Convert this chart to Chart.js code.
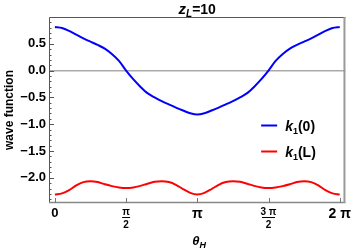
<!DOCTYPE html>
<html>
<head>
<meta charset="utf-8">
<script src="https://cdn.jsdelivr.net/npm/chart.js@4/dist/chart.umd.min.js"></script>
<style>
html,body{margin:0;padding:0;background:#fff;}
#wrap{width:354px;height:250px;position:relative;}
</style>
</head>
<body>
<div id="wrap"><canvas id="c" width="354" height="250"></canvas></div>
<script>
// ---- data ----
const theta = [0.000,0.157,0.314,0.471,0.628,0.785,0.942,1.100,1.257,1.414,1.571,1.728,1.885,2.042,2.199,2.356,2.513,2.670,2.827,2.985,3.142,
               3.299,3.456,3.613,3.770,3.927,4.084,4.241,4.398,4.555,4.712,4.869,5.027,5.184,5.341,5.498,5.655,5.812,5.969,6.126,6.283];
const k1_0 = [0.815,0.795,0.74,0.67,0.60,0.54,0.48,0.41,0.31,0.18,0.00,-0.16,-0.30,-0.42,-0.50,-0.57,-0.63,-0.69,-0.745,-0.795,-0.82,
              -0.795,-0.745,-0.69,-0.63,-0.57,-0.50,-0.42,-0.30,-0.16,0.00,0.18,0.31,0.41,0.48,0.54,0.60,0.67,0.74,0.795,0.815];
const k1_L = [-2.31,-2.29,-2.23,-2.14,-2.08,-2.065,-2.08,-2.12,-2.155,-2.18,-2.19,-2.18,-2.15,-2.11,-2.075,-2.065,-2.08,-2.13,-2.21,-2.28,-2.31,
              -2.28,-2.21,-2.13,-2.08,-2.065,-2.075,-2.11,-2.15,-2.18,-2.19,-2.18,-2.155,-2.12,-2.08,-2.065,-2.08,-2.14,-2.23,-2.29,-2.31];
const seriesNames = ['(0)','(L)'];
const xTickValues = [0, Math.PI/2, Math.PI, 3*Math.PI/2, 2*Math.PI];
const xTickLabels = ['0', ['π','2'], 'π', ['3 π','2'], '2 π'];
const yTickValues = [-2.0,-1.5,-1.0,-0.5,0.0,0.5];
const yTickLabels = ['−2.0','−1.5','−1.0','−0.5','0.0','0.5'];

const FONT = "'Liberation Sans', Arial, sans-serif";
const BLUE = 'rgb(0,0,255)';
const RED = 'rgb(255,0,0)';

const decor = {
  id: 'decor',
  afterDraw(chart) {
    const ctx = chart.ctx;
    const a = chart.chartArea;
    const xs = chart.scales.x, ys = chart.scales.y;
    ctx.save();
    // frame
    ctx.lineWidth = 1;
    ctx.strokeStyle = '#555';
    ctx.beginPath();
    ctx.moveTo(a.left + 0.5, a.bottom); ctx.lineTo(a.left + 0.5, a.top + 0.5); ctx.lineTo(a.right, a.top + 0.5);
    ctx.stroke();
    ctx.strokeStyle = '#888';
    ctx.lineWidth = 1.5;
    ctx.beginPath();
    ctx.moveTo(a.left, a.bottom - 0.5); ctx.lineTo(a.right, a.bottom - 0.5);
    ctx.stroke();
    ctx.strokeStyle = '#999';
    ctx.lineWidth = 2;
    ctx.beginPath();
    ctx.moveTo(a.right - 1, a.top); ctx.lineTo(a.right - 1, a.bottom);
    ctx.stroke();
    // y ticks (inward)
    ctx.strokeStyle = '#555';
    ctx.lineWidth = 1;
    for (let v = -2.4; v <= 0.95; v += 0.1) {
      const y = Math.round(ys.getPixelForValue(v)) + 0.5;
      const major = Math.abs(v*2 - Math.round(v*2)) < 1e-6;
      ctx.beginPath();
      ctx.moveTo(a.left, y); ctx.lineTo(a.left + (major ? 5 : 2.5), y);
      ctx.stroke();
    }
    // x ticks (inward)
    ctx.strokeStyle = '#777';
    xTickValues.forEach(v => {
      const x = Math.round(xs.getPixelForValue(v)) + 0.5;
      ctx.beginPath();
      ctx.moveTo(x, a.bottom); ctx.lineTo(x, a.bottom - 5);
      ctx.stroke();
    });
    // fraction bars
    ctx.strokeStyle = '#000';
    ctx.lineWidth = 1;
    xTickLabels.forEach((lab, i) => {
      if (Array.isArray(lab)) {
        const x = xs.getPixelForValue(xTickValues[i]);
        const w = lab[0].length > 1 ? 13 : 8;
        ctx.beginPath();
        ctx.moveTo(x - w/2, a.bottom + 14.5); ctx.lineTo(x + w/2, a.bottom + 14.5);
        ctx.stroke();
      }
    });
    // title z_L=10
    ctx.fillStyle = '#000';
    ctx.textBaseline = 'alphabetic';
    ctx.textAlign = 'left';
    const cx = (a.left + a.right) / 2;
    const parts = [['z','italic bold 15px ' + FONT, 0], ['L','italic bold 10px ' + FONT, 3], ['=10','bold 14px ' + FONT, 0]];
    let tw = 0;
    parts.forEach(p => { ctx.font = p[1]; tw += ctx.measureText(p[0]).width; });
    let tx = cx - tw / 2;
    parts.forEach(p => { ctx.font = p[1]; ctx.fillText(p[0], tx, 14 + p[2]); tx += ctx.measureText(p[0]).width; });
    // x axis title theta_H
    const xp = [['θ','italic bold 13px ' + FONT, 0], ['H','italic bold 9px ' + FONT, 3]];
    tw = 0;
    xp.forEach(p => { ctx.font = p[1]; tw += ctx.measureText(p[0]).width; });
    tx = cx - tw / 2 + 2;
    xp.forEach(p => { ctx.font = p[1]; ctx.fillText(p[0], tx, 245 + p[2]); tx += ctx.measureText(p[0]).width; });
    // legend
    const legY = [ys.getPixelForValue(-1.02), ys.getPixelForValue(-1.5)];
    const legColors = [BLUE, RED];
    const lx = xs.getPixelForValue(4.55);
    seriesNames.forEach((name, i) => {
      const y = Math.round(legY[i]) + 0.5;
      ctx.strokeStyle = legColors[i];
      ctx.lineWidth = 2;
      ctx.beginPath();
      ctx.moveTo(lx, y); ctx.lineTo(lx + 16, y);
      ctx.stroke();
      let px = lx + 24;
      const lp = [['k','italic bold 14px ' + FONT, 0], ['1','bold 9px ' + FONT, 3], [name,'bold 14px ' + FONT, 0]];
      lp.forEach(p => { ctx.font = p[1]; ctx.fillText(p[0], px, y + 5 + p[2]); px += ctx.measureText(p[0]).width; });
    });
    ctx.restore();
  }
};

new Chart(document.getElementById('c'), {
  type: 'line',
  data: {
    datasets: [
      { label: 'k1(0)', data: theta.map((t, i) => ({x: t, y: k1_0[i]})), borderColor: BLUE, borderWidth: 2, pointRadius: 0, cubicInterpolationMode: 'monotone', fill: false },
      { label: 'k1(L)', data: theta.map((t, i) => ({x: t, y: k1_L[i]})), borderColor: RED, borderWidth: 2, pointRadius: 0, cubicInterpolationMode: 'monotone', fill: false }
    ]
  },
  options: {
    responsive: false,
    animation: false,
    layout: { padding: { top: 17, right: 5, left: 2, bottom: 0 } },
    plugins: { legend: { display: false }, tooltip: { enabled: false } },
    scales: {
      x: {
        type: 'linear', min: -0.13, max: 6.41,
        afterBuildTicks: s => { s.ticks = xTickValues.map(v => ({value: v})); },
        afterFit: s => { s.height = 47; },
        grid: { display: false, drawTicks: false },
        border: { display: false },
        ticks: {
          autoSkip: false, maxRotation: 0, padding: 3, color: '#000',
          callback: (v, i) => xTickLabels[i],
          font: c => {
            const lab = xTickLabels[c.index];
            if (Array.isArray(lab)) return { family: FONT, size: 10, weight: 'bold', lineHeight: 1.25 };
            if (lab === '0') return { family: FONT, size: 13, weight: 'bold' };
            return { family: FONT, size: 14, weight: 'bold', style: 'normal' };
          }
        }
      },
      y: {
        type: 'linear', min: -2.47, max: 1.0,
        afterBuildTicks: s => { s.ticks = yTickValues.map(v => ({value: v})); },
        afterFit: s => { s.width = 47; },
        grid: { drawTicks: false, lineWidth: 1.5, color: c => (c.tick && c.tick.value === 0) ? '#aaa' : 'rgba(0,0,0,0)' },
        border: { display: false },
        ticks: {
          padding: 3, color: '#000',
          callback: (v, i) => yTickLabels[i],
          font: { family: FONT, size: 13, weight: 'bold' }
        },
        title: { display: true, text: 'wave function', color: '#000', font: { family: FONT, size: 12, weight: 'bold' }, padding: { top: 0, bottom: 0 } }
      }
    }
  },
  plugins: [decor]
});
</script>
</body>
</html>
